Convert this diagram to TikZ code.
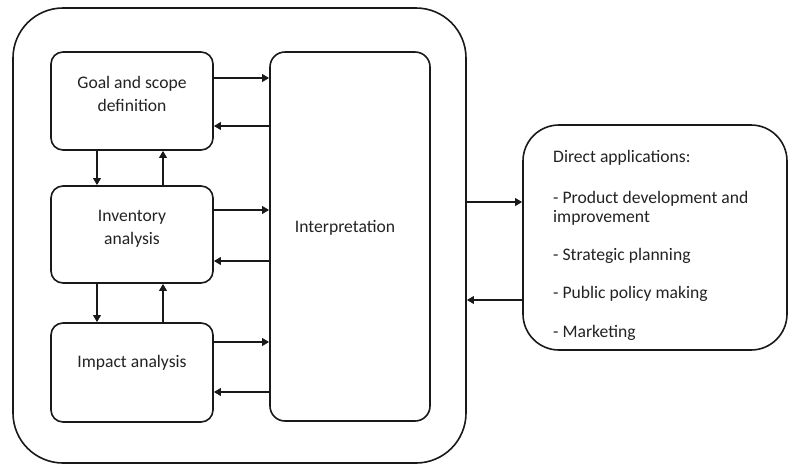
\documentclass[tikz,border=0pt]{standalone}
\usepackage{fontspec}
\setmainfont{Carlito}
\usetikzlibrary{arrows.meta,calc}
\definecolor{ink}{RGB}{25,25,25}
\definecolor{txt}{RGB}{35,35,35}
\tikzset{
  box/.style={draw=ink, line width=1.6pt, rounded corners=12pt, inner sep=0pt},
  lbl/.style={font=\fontsize{17.6}{19}\selectfont, text=txt, align=center, inner sep=0pt},
  arr/.style={draw=ink, line width=2.6pt, -{Triangle[length=7pt,width=7.5pt]}},
}
\begin{document}
\begin{tikzpicture}[x=1pt,y=-1pt]
\useasboundingbox (0,0) rectangle (789,467);
\fill[white] (0,0) rectangle (789,467);
% outer frame
\node[box, rounded corners=50pt, minimum width=453pt, minimum height=455pt] (outer) at (239.5,235.5) {};
% left boxes
\node[box, minimum width=162pt, minimum height=98pt] (goal) at (132,101) {};
\node[box, minimum width=162pt, minimum height=97pt] (inv) at (132,234.5) {};
\node[box, minimum width=162pt, minimum height=99pt] (imp) at (132,372.5) {};
\node[box, rounded corners=15pt, minimum width=160pt, minimum height=369pt] (interp) at (350,236.5) {};
% right box
\node[box, rounded corners=36pt, minimum width=264pt, minimum height=225pt] (apps) at (655,237.5) {};
% labels
\node[lbl, font=\fontsize{17.6}{23}\selectfont] (goaltxt) at (132,93.5) {Goal and scope\\definition};
\node[lbl, font=\fontsize{17.6}{23}\selectfont] (invtxt) at (132,228.5) {Inventory\\analysis};
\node[lbl] (imptxt) at (132,363) {Impact analysis};
\node[lbl] (inttxt) at (345,228) {Interpretation};
\node[lbl, align=left, anchor=north west] (appstxt) at (553,150) {Direct applications:\\[22pt]- Product development and\\improvement\\[19.5pt]- Strategic planning\\[19pt]- Public policy making\\[20pt]- Marketing};
% horizontal arrows left boxes <-> interpretation
\draw[arr] ([yshift=23pt]goal.east) -- ([yshift=23pt]goal.east -| interp.west);
\draw[arr] ([yshift=-25pt]goal.east -| interp.west) -- ([yshift=-25pt]goal.east);
\draw[arr] ([yshift=24.5pt]inv.east) -- ([yshift=24.5pt]inv.east -| interp.west);
\draw[arr] ([yshift=-26.5pt]inv.east -| interp.west) -- ([yshift=-26.5pt]inv.east);
\draw[arr] ([yshift=30.5pt]imp.east) -- ([yshift=30.5pt]imp.east -| interp.west);
\draw[arr] ([yshift=-19.5pt]imp.east -| interp.west) -- ([yshift=-19.5pt]imp.east);
% vertical arrows
\draw[arr] ([xshift=-35pt]goal.south) -- ([xshift=-35pt]goal.south |- inv.north);
\draw[arr] ([xshift=31pt]inv.north) -- ([xshift=31pt]inv.north |- goal.south);
\draw[arr] ([xshift=-35pt]inv.south) -- ([xshift=-35pt]inv.south |- imp.north);
\draw[arr] ([xshift=31pt]imp.north) -- ([xshift=31pt]imp.north |- inv.south);
% arrows outer <-> apps
\draw[arr] ([yshift=35.5pt]apps.west -| outer.east) -- ([yshift=35.5pt]apps.west);
\draw[arr] ([yshift=-62.5pt]apps.west) -- ([yshift=-62.5pt]apps.west -| outer.east);
\end{tikzpicture}
\end{document}
